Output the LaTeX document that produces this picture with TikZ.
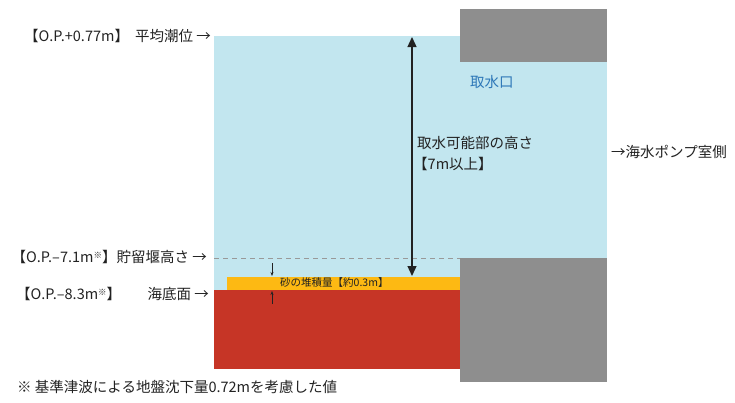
\documentclass[tikz,border=0pt]{standalone}
\usepackage{fontspec}
\setmainfont{Noto Sans CJK JP}
\usetikzlibrary{arrows.meta}
\definecolor{water}{HTML}{C2E6EF}
\definecolor{wall}{HTML}{8E8E8E}
\definecolor{seabed}{HTML}{C63526}
\definecolor{sand}{HTML}{FDB913}
\definecolor{bluetxt}{HTML}{2E78B8}
\definecolor{txt}{HTML}{222222}
\tikzset{
  lbl/.style={font=\fontsize{14.5}{16}\selectfont, text=txt, inner sep=0pt},
  small/.style={font=\fontsize{10.5}{12}\selectfont, text=txt, inner sep=0pt},
  bigarrow/.style={draw=txt, line width=1.3pt, {Triangle[width=9pt,length=10pt]}-{Triangle[width=9pt,length=10pt]}},
  tinyarrow/.style={draw=txt, line width=0.6pt, -{Stealth[width=3pt,length=4pt]}},
}
\newcommand{\kome}{\raisebox{0.5ex}{\fontsize{8.5}{9}\selectfont ※}}
\begin{document}
\begin{tikzpicture}[x=1pt,y=-1pt]
\useasboundingbox (0,0) rectangle (735,402);
% shapes
\fill[water] (214,36) rectangle (607,290);
\fill[wall] (460,9) rectangle (607,62);
\fill[wall] (460,258) rectangle (607,382);
\fill[seabed] (214,290) rectangle (460,369);
\fill[sand] (227,277) rectangle (460,290);
\draw[black!40, dash pattern=on 5pt off 4pt, line width=1pt] (214,258) -- (460,258);
% arrows
\coordinate (top) at (412,37);
\coordinate (bot) at (412,276);
\draw[bigarrow] (top) -- (bot);
\coordinate (d1) at (272,263);
\coordinate (d2) at (272,276);
\coordinate (u1) at (272,304);
\coordinate (u2) at (272,291);
\draw[tinyarrow] (d1) -- (d2);
\draw[tinyarrow] (u1) -- (u2);
% labels
\node[lbl, anchor=west] (l1a) at (24,36) {【O.P.+0.77m】};
\node[lbl, anchor=east] (l1b) at (211,36) {平均潮位 →};
\node[lbl, anchor=east] (l2) at (207,257) {【O.P.–7.1m\kome】貯留堰高さ →};
\node[lbl, anchor=west] (l3a) at (16,294) {【O.P.–8.3m\kome】};
\node[lbl, anchor=east] (l3b) at (209,294) {海底面 →};
\node[lbl, anchor=west, text=bluetxt] (intake) at (470,82) {取水口};
\node[lbl, anchor=west] (h1) at (417,143) {取水可能部の高さ};
\node[lbl, anchor=west] (h2) at (413,164) {【7m以上】};
\node[lbl, anchor=west] (pump) at (611,152) {→海水ポンプ室側};
\node[small, anchor=west] (sandlbl) at (280,283) {砂の堆積量【約0.3m】};
\node[lbl, anchor=west] (note) at (17,387) {※ 基準津波による地盤沈下量0.72mを考慮した値};
\end{tikzpicture}
\end{document}
